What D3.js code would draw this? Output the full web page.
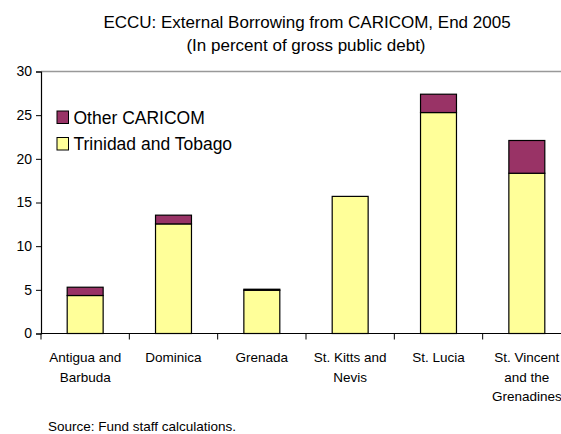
<!DOCTYPE html>
<html>
<head>
<meta charset="utf-8">
<script src="https://cdn.jsdelivr.net/npm/d3@7"></script>
<style>
  html, body { margin: 0; padding: 0; background: #fff; overflow: hidden; }
  svg { display: block; font-family: "Liberation Sans", Arial, sans-serif; }
</style>
</head>
<body>
<svg id="chart" width="561" height="434"></svg>
<script>
const categories = [
  ["Antigua and", "Barbuda"],
  ["Dominica"],
  ["Grenada"],
  ["St. Kitts and", "Nevis"],
  ["St. Lucia"],
  ["St. Vincent", "and the", "Grenadines"]
];
const trinidad = [4.35, 12.55, 4.95, 15.7, 25.3, 18.35];
const otherCaricom = [0.95, 1.0, 0.12, 0.0, 2.1, 3.75];
const yTicks = [0, 5, 10, 15, 20, 25, 30];
const seriesNames = ["Trinidad and Tobago", "Other CARICOM"];
const colors = { "Trinidad and Tobago": "#FFFF99", "Other CARICOM": "#993366" };

(function () {
const svg = d3.select("#chart");
const pLeft = 41, pRight = 571, pTop = 71.5, pBottom = 333.5;

const keys = categories.map(c => c.join(" "));
const x = d3.scaleBand().domain(keys).range([pLeft, pRight])
  .paddingInner(0.593).paddingOuter(0.2965);
const y = d3.scaleLinear().domain([0, 30]).range([pBottom, pTop]);

// Title
svg.append("text").attr("x", 307).attr("y", 28).attr("text-anchor", "middle")
  .attr("font-size", 17).attr("fill", "#000")
  .text("ECCU: External Borrowing from CARICOM, End 2005");
svg.append("text").attr("x", 306).attr("y", 51).attr("text-anchor", "middle")
  .attr("font-size", 17).attr("fill", "#000")
  .text("(In percent of gross public debt)");

// Plot area top border (gray)
svg.append("line").attr("x1", pLeft).attr("x2", pRight).attr("y1", y(30)).attr("y2", y(30))
  .attr("stroke", "#999").attr("stroke-width", 1.5);

// Stacked data
const rows = keys.map((k, i) => ({ key: k, "Trinidad and Tobago": trinidad[i], "Other CARICOM": otherCaricom[i] }));
const stack = d3.stack().keys(seriesNames)(rows);

svg.append("g").selectAll("g").data(stack).join("g")
  .attr("fill", d => colors[d.key])
  .selectAll("rect").data(d => d.filter(s => s[1] - s[0] > 0)).join("rect")
  .attr("x", d => x(d.data.key))
  .attr("width", x.bandwidth())
  .attr("y", d => y(d[1]))
  .attr("height", d => y(d[0]) - y(d[1]))
  .attr("stroke", "#000").attr("stroke-width", 1.2);

// Y axis
const yAxis = d3.axisLeft(y).tickValues(yTicks).tickSize(5).tickPadding(4);
const gy = svg.append("g").attr("transform", `translate(${pLeft},0)`).call(yAxis);
gy.select(".domain").attr("stroke", "#000").attr("stroke-width", 1.2);
gy.selectAll(".tick line").attr("stroke", "#000");
gy.selectAll(".tick text").attr("font-size", 14).attr("font-family", "Liberation Sans, Arial, sans-serif").attr("fill", "#000");

// X axis (category boundaries as ticks)
const gx = svg.append("g");
gx.append("line").attr("x1", pLeft).attr("x2", pRight).attr("y1", pBottom).attr("y2", pBottom)
  .attr("stroke", "#000").attr("stroke-width", 1.2);
const step = x.step();
const boundaries = keys.map(k => x(k) - (step - x.bandwidth()) / 2);
gx.selectAll("line.tk").data(boundaries).join("line").attr("class", "tk")
  .attr("x1", d => d).attr("x2", d => d).attr("y1", pBottom).attr("y2", pBottom + 6)
  .attr("stroke", "#000").attr("stroke-width", 1);

const lab = gx.selectAll("text.cat").data(categories).join("text").attr("class", "cat")
  .attr("text-anchor", "middle").attr("font-size", 13.5).attr("fill", "#000")
  .attr("transform", (d, i) => `translate(${x(keys[i]) + x.bandwidth() / 2},0)`);
lab.selectAll("tspan").data(d => d).join("tspan")
  .attr("x", 0).attr("y", (d, i) => 362 + i * 19.5).text(d => d);

// Legend
const legendItems = ["Other CARICOM", "Trinidad and Tobago"];
const lg = svg.append("g").selectAll("g").data(legendItems).join("g")
  .attr("transform", (d, i) => `translate(57,${111 + i * 26.5})`);
lg.append("rect").attr("width", 11.5).attr("height", 12.5)
  .attr("fill", d => colors[d]).attr("stroke", "#000").attr("stroke-width", 1);
lg.append("text").attr("x", 16.5).attr("y", 12.5).attr("font-size", 17.5).attr("fill", "#000").text(d => d);

// Source
svg.append("text").attr("x", 48).attr("y", 431).attr("font-size", 13.5).attr("fill", "#000")
  .text("Source: Fund staff calculations.");
})();
</script>
</body>
</html>
